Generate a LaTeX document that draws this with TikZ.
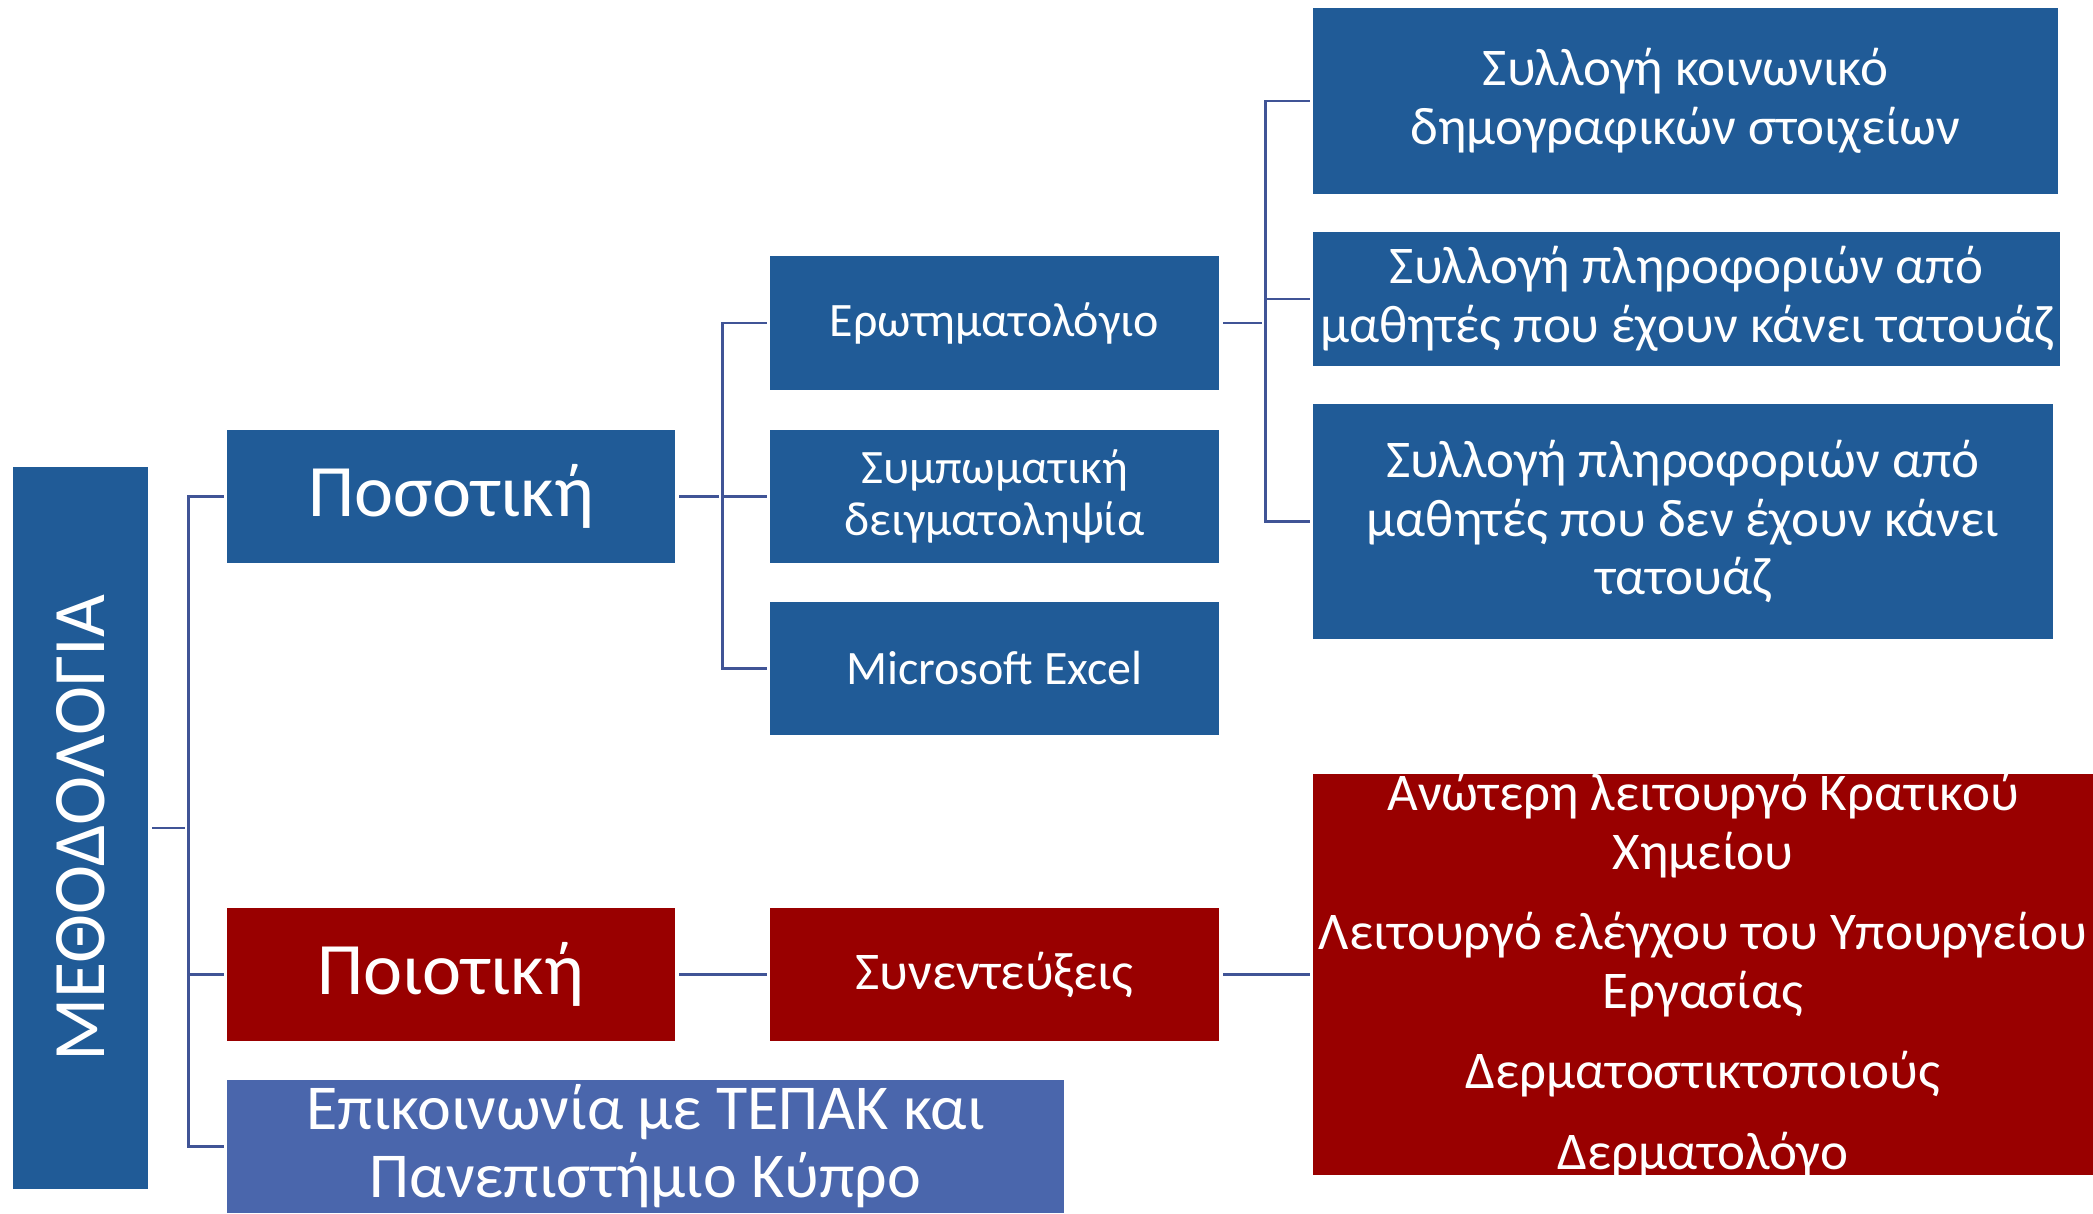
\documentclass[tikz,border=0pt]{standalone}
\usepackage{fontspec}
\setmainfont{Carlito}
\definecolor{bx}{RGB}{32,91,151}
\definecolor{rd}{RGB}{153,0,0}
\definecolor{lb}{RGB}{74,102,172}
\definecolor{ln}{RGB}{64,84,150}
\tikzset{
  boxb/.style={fill=bx, text=white, inner sep=0pt, align=center, anchor=center},
  boxr/.style={fill=rd, text=white, inner sep=0pt, align=center, anchor=center},
  boxl/.style={fill=lb, text=white, inner sep=0pt, align=center, anchor=center},
  conn/.style={draw=ln, line width=2.6pt, shorten >=3pt},
  big/.style={font=\fontsize{74}{80}\selectfont},
  mid/.style={font=\fontsize{48}{52}\selectfont},
  rgt/.style={font=\fontsize{53}{58.5}\selectfont},
}
\begin{document}
\begin{tikzpicture}[x=1pt,y=-1pt]
\useasboundingbox (0,0) rectangle (2093,1213);
% level 0
\node[boxb, minimum width=135pt, minimum height=722pt] (meth) at (80.5,828) {};
\node[text=white, rotate=90, font=\fontsize{74}{80}\selectfont] (methtxt) at (80.5,828) {ΜΕΘΟΔΟΛΟΓΙΑ};
% level 1
\node[boxb, big, minimum width=448pt, minimum height=133pt] (pos) at (451,496.5) {Ποσοτική};
\node[boxr, big, minimum width=448pt, minimum height=133pt] (poi) at (451,974.5) {Ποιοτική};
\node[boxl, font=\fontsize{64}{68}\selectfont, minimum width=837pt, minimum height=133pt] (epi) at (645.5,1146.5) {Επικοινωνία με ΤΕΠΑΚ και\\Πανεπιστήμιο Κύπρο};
% level 2
\node[boxb, mid, minimum width=449pt, minimum height=134pt] (er) at (994.5,323) {Ερωτηματολόγιο};
\node[boxb, mid, minimum width=449pt, minimum height=133pt] (sym) at (994.5,496.5) {Συμπωματική\\δειγματοληψία};
\node[boxb, mid, minimum width=449pt, minimum height=133pt] (exc) at (994.5,668.5) {Microsoft Excel};
\node[boxr, font=\fontsize{53}{58}\selectfont, minimum width=449pt, minimum height=133pt] (syn) at (994.5,974.5) {Συνεντεύξεις};
% level 3
\node[boxb, rgt, minimum width=745pt, minimum height=186pt] (r1) at (1685.5,101) {Συλλογή κοινωνικό\\δημογραφικών στοιχείων};
\node[boxb, rgt, minimum width=747pt, minimum height=134pt] (r2) at (1686.5,299) {Συλλογή πληροφοριών από\\μαθητές που έχουν κάνει τατουάζ};
\node[boxb, rgt, minimum width=740pt, minimum height=235pt] (r3) at (1683,521.5) {Συλλογή πληροφοριών από\\μαθητές που δεν έχουν κάνει\\τατουάζ};
\node[boxr, minimum width=780pt, minimum height=401pt] (red) at (1703,974.5) {};
\node[text=white, align=center, rgt, inner sep=0pt] (redtxt) at (1703,975.5) {Ανώτερη λειτουργό Κρατικού\\Χημείου\\[22pt]Λειτουργό ελέγχου του Υπουργείου\\Εργασίας\\[22pt]Δερματοστικτοποιούς\\[22pt]Δερματολόγο};
% connectors
\draw[conn, shorten <=4pt] (meth.east) -- ++(40,0) coordinate (t0);
\draw[conn] (t0) |- (pos.west);
\draw[conn] (t0) |- (poi.west);
\draw[conn] (t0) |- (epi.west);
\draw[conn, shorten <=4pt] (pos.east) -- ++(47,0) coordinate (t1);
\draw[conn] (t1) |- (er.west);
\draw[conn] (t1) -- (sym.west);
\draw[conn] (t1) |- (exc.west);
\draw[conn, shorten <=4pt] (er.east) -- ++(46,0) coordinate (t2);
\draw[conn] (t2) |- (r1.west);
\draw[conn] (t2) |- (r2.west);
\draw[conn] (t2) |- (r3.west);
\draw[conn, shorten <=4pt] (poi.east) -- (syn.west);
\draw[conn, shorten <=4pt] (syn.east) -- (red.west);
\end{tikzpicture}
\end{document}
